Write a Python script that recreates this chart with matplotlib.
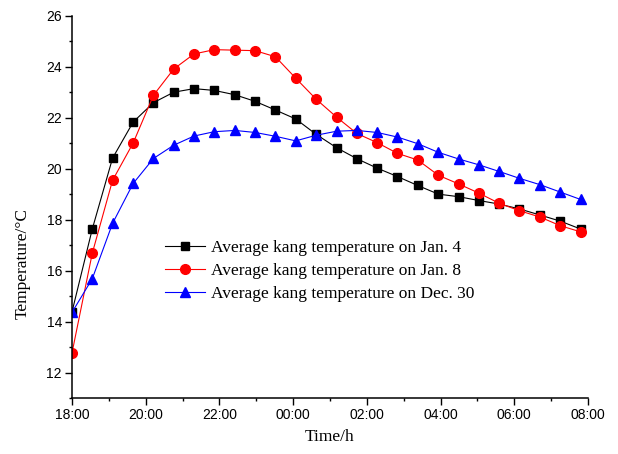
import matplotlib
matplotlib.use("Agg")
import matplotlib.pyplot as plt
from matplotlib.ticker import MultipleLocator

# hours after 18:00
hours = [0.00, 0.55, 1.10, 1.66, 2.21, 2.76, 3.31, 3.86, 4.42, 4.97,
         5.52, 6.07, 6.62, 7.18, 7.73, 8.28, 8.83, 9.38, 9.94, 10.49,
         11.04, 11.59, 12.14, 12.70, 13.25, 13.80]

kang_jan4 = [14.38, 17.63, 20.41, 21.83, 22.59, 23.00, 23.14, 23.07, 22.90, 22.64,
             22.30, 21.95, 21.35, 20.82, 20.39, 20.02, 19.69, 19.34, 19.00, 18.90,
             18.75, 18.61, 18.42, 18.18, 17.94, 17.63]
kang_jan8 = [12.77, 16.68, 19.54, 21.01, 22.88, 23.91, 24.50, 24.67, 24.65, 24.63,
             24.39, 23.55, 22.73, 22.02, 21.38, 21.02, 20.60, 20.34, 19.74, 19.40,
             19.04, 18.64, 18.35, 18.10, 17.76, 17.52]
kang_dec30 = [14.36, 15.68, 17.85, 19.42, 20.40, 20.92, 21.28, 21.45, 21.50, 21.42,
              21.27, 21.09, 21.31, 21.47, 21.50, 21.42, 21.24, 20.98, 20.64, 20.38,
              20.15, 19.89, 19.62, 19.37, 19.08, 18.79]

labels = ["Average kang temperature on Jan. 4",
          "Average kang temperature on Jan. 8",
          "Average kang temperature on Dec. 30"]

tick_hours = [0, 2, 4, 6, 8, 10, 12, 14]
tick_labels = ["18:00", "20:00", "22:00", "00:00", "02:00", "04:00", "06:00", "08:00"]

fig = plt.figure(figsize=(6.18, 4.54), dpi=100)
ax = fig.add_axes([0.1165, 0.1233, 0.835, 0.842])

ax.plot(hours, kang_jan4, color="black", marker="s", markersize=6, lw=0.8, label=labels[0])
ax.plot(hours, kang_jan8, color="red", marker="o", markersize=7, lw=0.8, label=labels[1])
ax.plot(hours, kang_dec30, color="blue", marker="^", markersize=7.5, lw=0.8, label=labels[2])

ax.set_xlim(0, 14)
ax.set_ylim(11, 26)
ax.set_xticks(tick_hours)
ax.set_xticklabels(tick_labels)
ax.xaxis.set_minor_locator(MultipleLocator(1))
ax.set_yticks([12, 14, 16, 18, 20, 22, 24, 26])
ax.yaxis.set_minor_locator(MultipleLocator(1))

for side in ["top", "right"]:
    ax.spines[side].set_visible(False)
for side in ["left", "bottom"]:
    ax.spines[side].set_linewidth(1.1)

ax.tick_params(which="major", direction="out", length=4.7, width=1.0, pad=2.5,
               labelsize=10)
ax.tick_params(which="minor", direction="out", length=2.4, width=1.0)
for lab in ax.get_xticklabels() + ax.get_yticklabels():
    lab.set_fontfamily("Liberation Sans")

ax.set_xlabel("Time/h", fontfamily="Liberation Serif", fontsize=12.5, labelpad=5)
ax.set_ylabel("Temperature/°C", fontfamily="Liberation Serif", fontsize=12.5)
ax.yaxis.set_label_coords(-0.08, 0.353)

ax.legend(loc="upper left", bbox_to_anchor=(0.18, 0.413), frameon=False,
          prop={"family": "Liberation Serif", "size": 12.5},
          handlelength=2.3, handletextpad=0.35, labelspacing=0.38, borderpad=0,
          borderaxespad=0)

fig.savefig("out.png", dpi=100)
